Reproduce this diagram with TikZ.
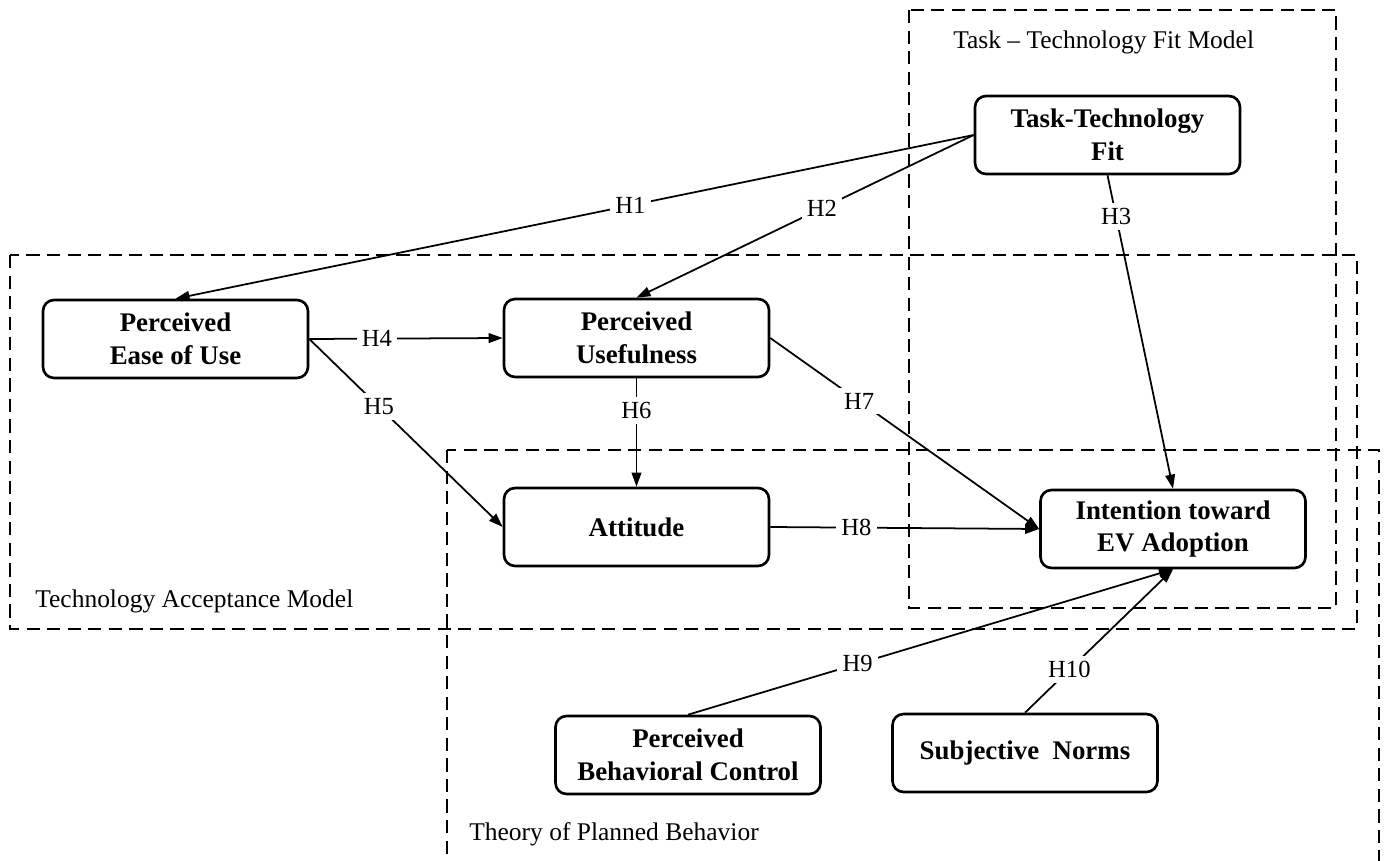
\documentclass[tikz,border=0pt]{standalone}
\usepackage{fontspec}
\setmainfont{Liberation Serif}
\usetikzlibrary{arrows.meta}
\begin{document}
\begin{tikzpicture}[x=0.02cm,y=-0.02cm,
 box/.style={draw,fill=white,line width=1.5pt,rounded corners=0.22cm,minimum width=5.3cm,minimum height=1.56cm,align=center,font=\fontsize{15.3}{18.7}\selectfont\bfseries,inner sep=2pt},
 region/.style={line width=1.1pt,dash pattern=on 7.5pt off 4.2pt},
 arr/.style={-{Triangle[length=8pt,width=5.5pt]},line width=1pt},
 lab/.style={fill=white,font=\fontsize{14}{16}\selectfont,inner sep=3pt},
 title/.style={font=\fontsize{14.5}{16}\selectfont,anchor=west,inner sep=0pt}]
\useasboundingbox (0,0) rectangle (1385,861);
\begin{scope}
\clip (0,0) rectangle (1385,861);
\draw[region] (909,10) rectangle (1336,608);
\draw[region] (10,255) rectangle (1357,629);
\draw[region] (447,450) rectangle (1379,900);
\end{scope}
\node[title] (ttfm) at (953,42) {Task -- Technology Fit Model};
\node[title] (tamm) at (35,601) {Technology Acceptance Model};
\node[title] (tpbm) at (469,834) {Theory of Planned Behavior};

\node[box] (ttf) at (1107.5,135) {Task-Technology\\Fit};
\node[box] (peou) at (175.5,339) {Perceived\\Ease of Use};
\node[box] (pu) at (636.5,338) {Perceived\\Usefulness};
\node[box] (att) at (636.5,527) {Attitude};
\node[box] (iea) at (1173,529) {Intention toward\\EV Adoption};
\node[box] (pbc) at (688,755) {Perceived\\Behavioral Control};
\node[box] (sn) at (1025,753) {Subjective~ Norms};

\draw[arr] (ttf.west) -- node[lab,pos=0.43]{H1} (peou.north);
\draw[arr] (ttf.west) -- node[lab,pos=0.45]{H2} (pu.north);
\draw[arr] (ttf.south) -- node[lab,pos=0.13]{H3} (iea.north);
\draw[arr] (peou.east) -- node[lab,pos=0.35]{H4} (pu.west);
\draw[arr] (peou.east) -- node[lab,pos=0.36]{H5} (att.west);
\draw[arr] (pu.south) -- node[lab,pos=0.3]{H6} (att.north);
\draw[arr] (pu.east) -- node[lab,pos=0.33]{H7} (iea.west);
\draw[arr] (att.east) -- node[lab,pos=0.32]{H8} (iea.west);
\draw[arr] (pbc.north) -- node[lab,pos=0.35]{H9} (iea.south);
\draw[arr] (sn.north) -- node[lab,pos=0.3]{H10} (iea.south);
\end{tikzpicture}
\end{document}
